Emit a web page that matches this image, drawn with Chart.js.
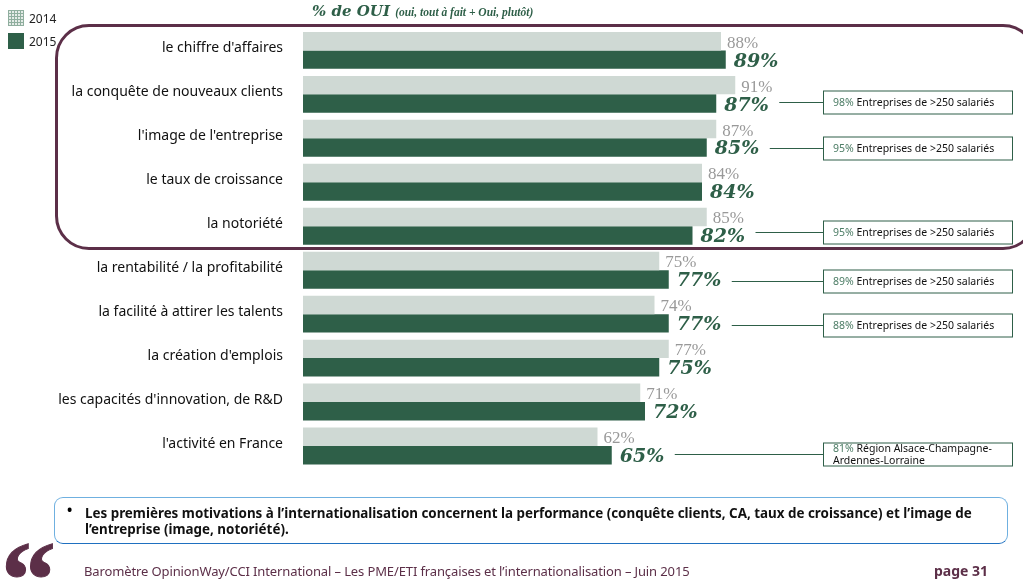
<!DOCTYPE html>
<html>
<head>
<meta charset="utf-8">
<title>Barometre OpinionWay</title>
<script src="https://cdn.jsdelivr.net/npm/chart.js@4"></script>
<style>
  html, body { margin: 0; padding: 0; background: #fff; }
  #page { position: relative; width: 1023px; height: 585px; overflow: hidden; font-family: 'Noto Sans', sans-serif; }
  #page canvas { position: absolute; left: 0; top: 0; }
  .abs { position: absolute; white-space: nowrap; }
  #title { left: 312px; top: 2px; color: #2e5f48; font: italic bold 15px 'DejaVu Serif', serif; }
  #title small { font: italic bold 11.5px 'Liberation Serif', serif; }
  .swatch { left: 8px; width: 16px; height: 16px; }
  #sw2014 { top: 10px; background:
      repeating-linear-gradient(0deg, #8fae9e 0 1px, transparent 1px 3px),
      repeating-linear-gradient(90deg, #8fae9e 0 1px, #e4ebe7 1px 3px); }
  #sw2015 { top: 33px; background: #2e5f48; }
  .legtxt { left: 29px; font-size: 12px; color: #222; }
  #frame { left: 55px; top: 24px; width: 976px; height: 220px; border: 3px solid #5c2f48; border-radius: 34px; }
  #note { left: 54px; top: 497px; width: 952px; height: 45px; border: 1.5px solid #6fb0e0; border-bottom-color: #1f70c0; border-radius: 9px; }
  #noteText { left: 85px; top: 505px; font-size: 13.4px; line-height: 16px; font-weight: 700; color: #111; }
  #bullet { left: 67px; top: 500px; font-size: 14px; font-weight: 700; }
  #quote { left: 1px; top: 525px; font: bold 110px/110px 'Liberation Serif', serif; color: #5c2f48; -webkit-text-stroke: 1px #5c2f48; }
  #footer { left: 84px; top: 562px; font-size: 13px; letter-spacing: -0.12px; color: #5c2f48; }
  #pageNo { left: 934px; top: 561px; font-size: 14px; font-weight: 700; color: #5c2f48; }
</style>
</head>
<body>
<div id="page">
  <canvas id="chart" width="1023" height="585"></canvas>
  <div id="title" class="abs">% de OUI <small>(oui, tout à fait + Oui, plutôt)</small></div>
  <div id="sw2014" class="abs swatch"></div><div class="abs legtxt" style="top:10px">2014</div>
  <div id="sw2015" class="abs swatch"></div><div class="abs legtxt" style="top:33px">2015</div>
  <div id="frame" class="abs"></div>
  <div id="note" class="abs"></div>
  <div id="bullet" class="abs">•</div>
  <div id="noteText" class="abs">Les premières motivations à l’internationalisation concernent la performance (conquête clients, CA, taux de croissance) et l’image de<br>l’entreprise (image, notoriété).</div>
  <div id="quote" class="abs">“</div>
  <div id="footer" class="abs">Baromètre OpinionWay/CCI International – Les PME/ETI françaises et l’internationalisation – Juin 2015</div>
  <div id="pageNo" class="abs">page 31</div>
</div>
<script>
const categories = ["le chiffre d'affaires", 'la conquête de nouveaux clients', "l'image de l'entreprise", 'le taux de croissance', 'la notoriété', 'la rentabilité / la profitabilité', 'la facilité à attirer les talents', "la création d'emplois", "les capacités d'innovation, de R&D", "l'activité en France"];
const values2014 = [88, 91, 87, 84, 85, 75, 74, 77, 71, 62];
const values2015 = [89, 87, 85, 84, 82, 77, 77, 75, 72, 65];
// side notes, same order as categories
const notePct = [null, '98%', '95%', null, '95%', '89%', '88%', null, null, '81%'];
const noteText = [null, 'Entreprises de >250 salariés', 'Entreprises de >250 salariés', null, 'Entreprises de >250 salariés', 'Entreprises de >250 salariés', 'Entreprises de >250 salariés', null, null, ['Région Alsace-Champagne-', 'Ardennes-Lorraine']];

const GREEN = '#2e5f48';
// the boxes are not quite centred on their bars in the original
const boxNudge = { 1: -1, 2: 1, 4: -2, 5: 2.5, 6: 3, 9: 0 };

// percentages at the end of each bar
const valueLabels = {
    id: 'valueLabels',
    afterDatasetsDraw(chart) {
        const ctx = chart.ctx;
        ctx.save();
        ctx.textBaseline = 'middle';
        ctx.textAlign = 'left';
        chart.getDatasetMeta(0).data.forEach((bar, i) => {
            ctx.font = '17px "Liberation Serif", serif';
            ctx.fillStyle = '#999';
            ctx.fillText(values2014[i] + '%', bar.x + 6, bar.y + 2);
        });
        chart.getDatasetMeta(1).data.forEach((bar, i) => {
            ctx.font = 'italic bold 19px "DejaVu Serif", serif';
            ctx.fillStyle = GREEN;
            ctx.fillText(values2015[i] + '%', bar.x + 8, bar.y + 2);
        });
        ctx.restore();
    }
};

// boxes on the right with their connector
const sideNotes = {
    id: 'sideNotes',
    afterDatasetsDraw(chart) {
        const ctx = chart.ctx;
        ctx.save();
        chart.getDatasetMeta(1).data.forEach((bar, i) => {
            if (!notePct[i]) return;
            const two = Array.isArray(noteText[i]);
            const lines = two ? noteText[i] : [noteText[i]];
            const y = Math.round(bar.y + (boxNudge[i] || 0)) - 0.5;
            ctx.strokeStyle = GREEN;
            ctx.lineWidth = 1;
            ctx.beginPath();
            ctx.moveTo(bar.x + 63, y);
            ctx.lineTo(823, y);
            ctx.stroke();
            ctx.fillStyle = '#fff';
            ctx.fillRect(823.5, y - 11.5, 189, 23);
            ctx.strokeRect(823.5, y - 11.5, 189, 23);
            ctx.font = '10.5px "Noto Sans", sans-serif';
            ctx.textBaseline = 'middle';
            ctx.fillStyle = '#4d7d66';
            const top = two ? y - 5 : y + 0.5;
            ctx.fillText(notePct[i], 833, top);
            const w = ctx.measureText(notePct[i] + ' ').width;
            ctx.fillStyle = '#111';
            ctx.fillText(lines[0], 833 + w, top);
            if (two) ctx.fillText(lines[1], 833, y + 7);
        });
        ctx.restore();
    }
};

new Chart(document.getElementById('chart'), {
    type: 'bar',
    data: {
        labels: categories,
        datasets: [
            { label: '2014', data: values2014, backgroundColor: '#cfd9d4' },
            { label: '2015', data: values2015, backgroundColor: GREEN }
        ]
    },
    options: {
        indexAxis: 'y',
        responsive: false,
        animation: false,
        layout: { padding: { top: 28, bottom: 117, right: 245, left: 0 } },
        datasets: { bar: { barPercentage: 1, categoryPercentage: 0.84 } },
        plugins: { legend: { display: false }, tooltip: { enabled: false } },
        scales: {
            x: { display: false, min: 0, max: 100 },
            y: {
                afterFit(scale) { scale.width = 303; },
                grid: { display: false, drawTicks: false },
                border: { display: false },
                ticks: {
                    padding: 20,
                    labelOffset: -2,
                    color: '#111',
                    autoSkip: false,
                    font: { family: "'Noto Sans', sans-serif", size: 14 }
                }
            }
        }
    },
    plugins: [valueLabels, sideNotes]
});
</script>
</body>
</html>
